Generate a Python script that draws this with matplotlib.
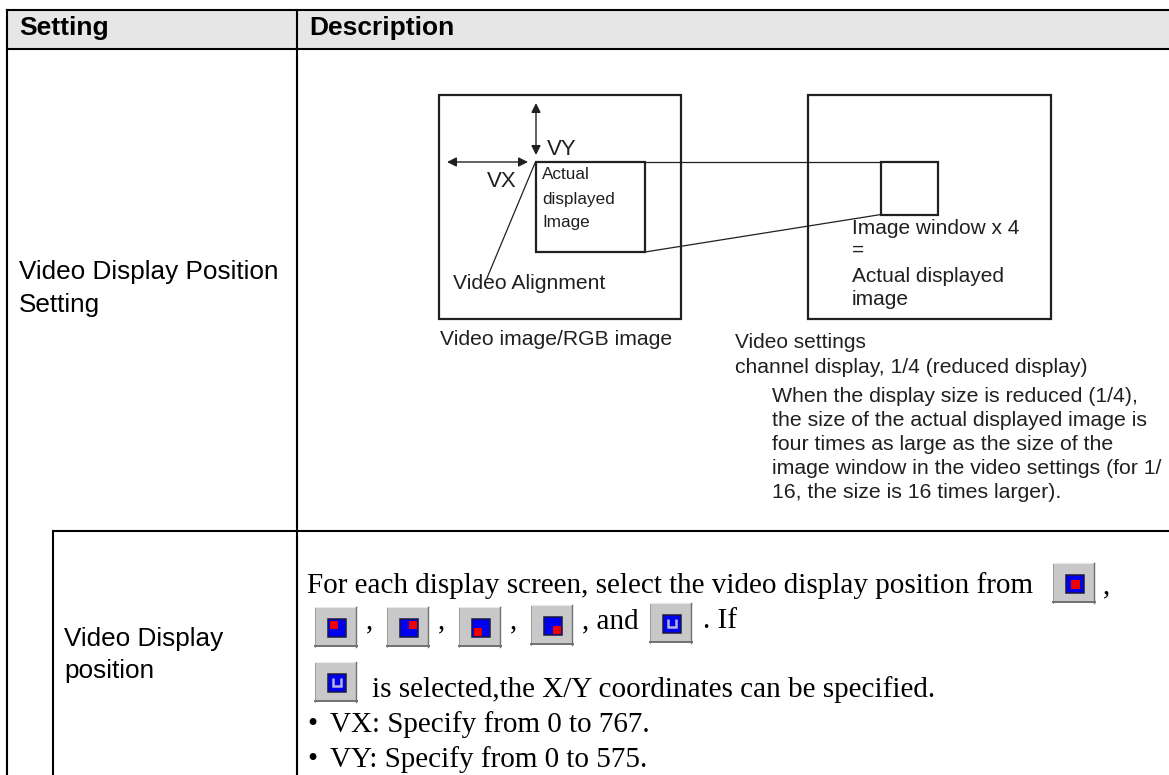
import matplotlib
matplotlib.use("Agg")
import matplotlib.pyplot as plt
from matplotlib.patches import Rectangle

SANS = "Liberation Sans"
SERIF = "Liberation Serif"
INK = "#231f20"

# table rules: (x0, y0, x1, y1)
table_rules = [
    (7, 10, 1169, 10), (7, 48.5, 1169, 48.5), (53, 531, 1169, 531),
    (7, 10, 7, 775), (296.5, 10, 296.5, 775), (53, 531, 53, 775),
]
header_labels = [("Setting", 19, 35), ("Description", 309, 35)]
cell_labels = [
    ("Video Display Position", 19, 279), ("Setting", 19, 312),
    ("Video Display", 64, 646), ("position", 64, 678),
]

# diagram boxes: (x0, y0, x1, y1)
diagram_boxes = [
    (438.5, 95, 681, 319), (535.5, 162, 645, 252),
    (808, 95, 1051, 319), (880.5, 162, 938, 215),
]
diagram_lines = [
    (645, 162, 881, 162), (645, 252, 881, 214.5), (535, 163, 487, 278),
]
arrows = [((536, 103), (536, 155)), ((447, 162), (528, 162))]
small_labels = [
    ("VY", 547, 155, 16), ("VX", 487, 187, 16),
    ("Video Alignment", 453, 289, 15.2), ("Video image/RGB image", 440, 345, 15.2),
    ("Image window x 4", 852, 234, 15), ("=", 852, 256, 15),
    ("Actual displayed", 852, 282, 15), ("image", 852, 305, 15),
    ("Video settings", 735, 348, 15),
    ("channel display, 1/4 (reduced display)", 735, 373, 15.2),
    ("When the display size is reduced (1/4),", 772, 402, 15.3),
    ("the size of the actual displayed image is", 772, 426, 15.3),
    ("four times as large as the size of the", 772, 450, 15.3),
    ("image window in the video settings (for 1/", 772, 474, 15.3),
    ("16, the size is 16 times larger).", 772, 498, 15.3),
]
narrow_labels = [("Actual", 542, 179), ("displayed", 542, 204), ("Image", 542, 227)]
serif_labels = [
    ("For each display screen, select the video display position from", 307, 593),
    (",", 1103, 593), (",", 366, 628), (",", 438, 628), (",", 510, 628),
    (", and", 582, 628), (". If", 703, 628),
    ("is selected,the X/Y coordinates can be specified.", 372, 697),
    ("\u2022", 307, 732), ("VX: Specify from 0 to 767.", 330, 732),
    ("\u2022", 307, 767), ("VY: Specify from 0 to 575.", 330, 767),
]
# icon buttons: (x0, y0, kind)
buttons = [
    (1053, 563, "c"), (315, 607, "tl"), (387, 607, "tr"), (459, 607, "bl"),
    (531, 605, "br"), (650, 603, "u"), (315, 662, "u"),
]

fig = plt.figure(figsize=(11.69, 7.75), dpi=100)
ax = fig.add_axes([0, 0, 1, 1])
ax.set_xlim(0, 1169)
ax.set_ylim(775, 0)
ax.axis("off")

ax.add_patch(Rectangle((7, 10), 1162, 38.5, fc="#e6e6e6", ec="none", zorder=0))
for x0, y0, x1, y1 in table_rules:
    ax.plot([x0, x1], [y0, y1], color="black", lw=1.5, solid_capstyle="projecting", zorder=3)
for s, x, y in header_labels:
    ax.text(x, y, s, family=SANS, weight="bold", size=19, va="baseline", color="black")
for s, x, y in cell_labels:
    ax.text(x, y, s, family=SANS, size=18.8, va="baseline", color="black")

for x0, y0, x1, y1 in diagram_boxes:
    ax.add_patch(Rectangle((x0, y0), x1 - x0, y1 - y0, fc="none", ec=INK, lw=1.6, zorder=2))
for x0, y0, x1, y1 in diagram_lines:
    ax.plot([x0, x1], [y0, y1], color=INK, lw=0.9, zorder=2)
for a, b in arrows:
    ax.annotate("", xy=a, xytext=b, arrowprops=dict(arrowstyle="<|-|>", color=INK, lw=1.0,
                mutation_scale=14, shrinkA=0, shrinkB=0))
for s, x, y, fs in small_labels:
    ax.text(x, y, s, family=SANS, size=fs, va="baseline", color=INK)
for s, x, y in narrow_labels:
    ax.text(x, y, s, family=SANS, size=12.3, va="baseline", color=INK)
for s, x, y in serif_labels:
    ax.text(x, y, s, family=SERIF, size=21, va="baseline", color="black")


def draw_button(x, y, kind):
    W, H = 42, 40
    ax.add_patch(Rectangle((x, y), W, H, fc="#c8c8c8", ec="none", zorder=2))
    ax.plot([x, x], [y, y + H], color="#9a9a9a", lw=0.7, zorder=3)
    ax.plot([x, x + W], [y, y], color="#e8e8e8", lw=0.8, zorder=3)
    ax.plot([x + W - 1, x + W - 1], [y, y + H], color="#707070", lw=1.0, zorder=3)
    ax.plot([x, x + W], [y + H - 1, y + H - 1], color="#707070", lw=1.4, zorder=3)
    ix, iy = x + 13, y + 12
    s = 18
    ax.add_patch(Rectangle((ix, iy), s, s, fc="#0000f0", ec="#1a1a40", lw=1.1, zorder=4))
    red = {"c": (4.5, 4.5), "tl": (1.5, 1.5), "tr": (8.5, 1.5), "bl": (1.5, 8.5), "br": (8.5, 8.5)}
    if kind in red:
        dx, dy = red[kind]
        w = 8 if kind != "c" else 9
        ax.add_patch(Rectangle((ix + dx, iy + dy), w, w, fc="#f00000", ec="none", zorder=5))
    else:
        ax.plot([ix + 5, ix + 5, ix + 13, ix + 13],
                [iy + 4, iy + 12, iy + 12, iy + 4], color="#b4b4d8", lw=1.8, zorder=5,
                solid_joinstyle="miter", solid_capstyle="butt")


for x, y, k in buttons:
    draw_button(x, y, k)

fig.savefig("out.png", dpi=100)
